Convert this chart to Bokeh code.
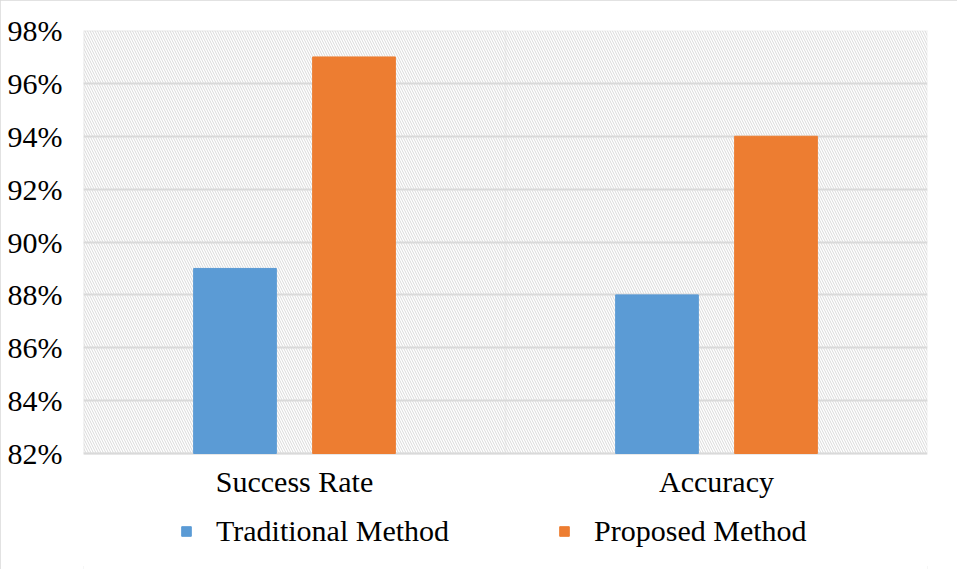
from bokeh.plotting import figure
from bokeh.models import BoxAnnotation, Legend, LegendItem, ColumnDataSource, Range1d, FixedTicker
from bokeh.transform import dodge
from bokeh.core.properties import value
from bokeh.embed import file_html
from bokeh.resources import INLINE

categories = ["Success Rate", "Accuracy"]
traditional = [0.89, 0.88]
proposed = [0.97, 0.94]
y_ticks = [0.82, 0.84, 0.86, 0.88, 0.90, 0.92, 0.94, 0.96, 0.98]
tick_labels = {t: "%d%%" % round(t * 100) for t in y_ticks}

FONT = "Liberation Serif"
GRID = "#d9d9d9"
Y_MIN, Y_MAX = 0.82, 0.98

# the frame runs to the bottom of the figure so the labels and legend sit inside it
plot_px = 423            # height of the hatched area
below_px = 116           # room under it for category labels and legend
units_per_px = (Y_MAX - Y_MIN) / plot_px
y_start = Y_MIN - below_px * units_per_px

source = ColumnDataSource(data=dict(cat=categories, trad=traditional, prop=proposed,
                                    label_y=[Y_MIN - 28 * units_per_px] * len(categories)))

p = figure(x_range=categories, y_range=Range1d(y_start, Y_MAX),
           frame_width=844, frame_height=plot_px + below_px,
           toolbar_location=None, tools="", output_backend="svg",
           min_border_left=83, min_border_right=30, min_border_top=30, min_border_bottom=0)
p.x_range.range_padding = 0
p.background_fill_color = "white"
p.outline_line_color = None
p.styles = {"outline": "3px solid #d9d9d9", "outline-offset": "-3px"}

# hatched plot area with its border, and the divider between the two groups
p.add_layout(BoxAnnotation(bottom=Y_MIN, fill_color=None, line_color=GRID, line_width=2,
                           hatch_pattern="\\", hatch_color=GRID, hatch_scale=5, hatch_weight=1,
                           level="underlay"))
p.add_layout(BoxAnnotation(bottom=Y_MIN, right=1, fill_color=None, line_color=GRID, line_width=2,
                           level="underlay"))

r1 = p.vbar(x=dodge("cat", -0.141, range=p.x_range), top="trad", bottom=Y_MIN, width=0.196,
            source=source, color="#5B9BD5")
r2 = p.vbar(x=dodge("cat", 0.141, range=p.x_range), top="prop", bottom=Y_MIN, width=0.196,
            source=source, color="#ED7D31")

p.text(x="cat", y="label_y", text="cat", source=source, text_font=value(FONT),
       text_font_size="30px", text_color="black", text_align="center", text_baseline="middle")

p.xgrid.grid_line_color = None
p.ygrid.ticker = FixedTicker(ticks=y_ticks)
p.ygrid.grid_line_color = GRID
p.ygrid.grid_line_width = 2
p.ygrid.level = "underlay"

p.xaxis.visible = False

p.yaxis.ticker = FixedTicker(ticks=y_ticks)
p.yaxis.major_label_overrides = tick_labels
p.yaxis.axis_line_color = None
p.yaxis.major_tick_line_color = None
p.yaxis.minor_tick_line_color = None
p.yaxis.major_label_standoff = 15
p.yaxis.major_label_text_font = FONT
p.yaxis.major_label_text_font_size = "30px"
p.yaxis.major_label_text_color = "black"

legend = Legend(items=[LegendItem(label="Traditional Method", renderers=[r1]),
                       LegendItem(label="Proposed Method", renderers=[r2])],
                orientation="horizontal", location=(97, 21),
                glyph_width=12, glyph_height=12, label_standoff=24, spacing=109,
                label_text_font=FONT, label_text_font_size="30px", label_text_color="black",
                border_line_color=None, background_fill_alpha=0, padding=4, margin=0)
p.add_layout(legend)

open("out.html", "w").write(file_html(p, INLINE))
